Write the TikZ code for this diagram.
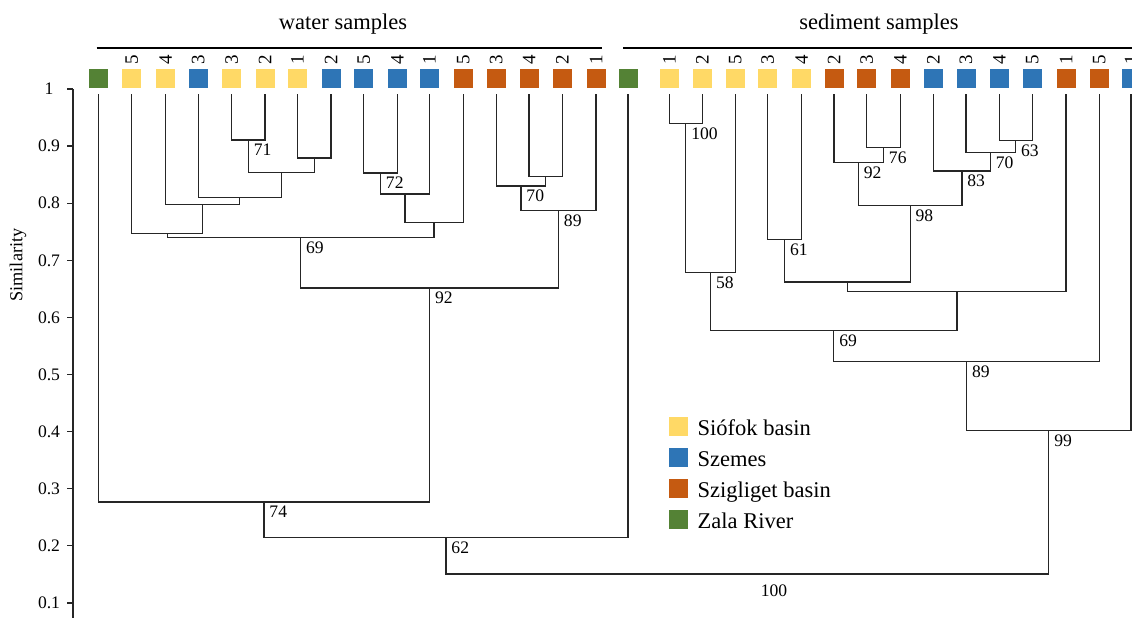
\documentclass[tikz,border=0pt]{standalone}
\usepackage{fontspec}
\setmainfont{Liberation Serif}
\usetikzlibrary{positioning}

\definecolor{syel}{HTML}{FFD966}
\definecolor{sblue}{HTML}{2E75B6}
\definecolor{sorange}{HTML}{C55A11}
\definecolor{sgreen}{HTML}{548235}

\begin{document}
\begin{tikzpicture}[
    x=0.025cm, y=-0.025cm,
    leaf/.style={rectangle, fill=#1, minimum size=4.75mm, inner sep=0pt, outer ysep=1.6mm},
    key/.style={rectangle, fill=#1, minimum size=4.75mm, inner sep=0pt},
    tag/.style={rotate=90, inner sep=0pt, font=\fontsize{13.5}{16}\selectfont},
    num/.style={anchor=north west, inner sep=0pt, xshift=1.3mm, yshift=-1mm, font=\fontsize{12.5}{15}\selectfont},
    tick/.style={inner sep=0pt, font=\fontsize{12.5}{15}\selectfont},
    title/.style={anchor=base, inner sep=0pt, font=\fontsize{16}{19}\selectfont},
    keytext/.style={anchor=base west, inner sep=0pt, font=\fontsize{16}{19}\selectfont},
    link/.style={draw=black!85, line width=0.9pt},
    axis/.style={draw=black!85, line width=0.9pt},
    bracket/.style={draw=black, line width=1.4pt}
]
    \useasboundingbox (0,0) rectangle (1132,618);

    % group headings
    \node[title] (wtitle) at (343,29.3) {water samples};
    \node[title] (stitle) at (879,29.3) {sediment samples};
    \draw[bracket] (96.7,48.3) -- (601.7,48.3);
    \draw[bracket] (623.3,48.3) -- (1140,48.3);

    % axis
    \draw[axis] (73,89) -- (73,618);
    \foreach \v/\t [count=\i] in {89/1, 146.1/0.9, 203.2/0.8, 260.3/0.7, 317.4/0.6,
                                  374.5/0.5, 431.6/0.4, 488.7/0.3, 545.8/0.2, 602.9/0.1} {
        \draw[axis] (67,\v) -- (73,\v);
        \node[tick] (tk\i) at (49,\v) {\t};
    }
    \node[rotate=90, font=\fontsize{13}{15}\selectfont] (ylab) at (18,265) {Similarity};

    % water samples
    \node[leaf=sgreen] (wz) at (98.3,78.5) {};
    \node[leaf=syel] (wy5) at (131.7,78.5) {};  \node[tag] (wy5n) at (wy5 |- 0,60) {5};
    \node[leaf=syel] (wy4) at (165.7,78.5) {};  \node[tag] (wy4n) at (wy4 |- 0,60) {4};
    \node[leaf=sblue] (wb3) at (198.3,78.5) {}; \node[tag] (wb3n) at (wb3 |- 0,60) {3};
    \node[leaf=syel] (wy3) at (231.7,78.5) {};  \node[tag] (wy3n) at (wy3 |- 0,60) {3};
    \node[leaf=syel] (wy2) at (265,78.5) {};    \node[tag] (wy2n) at (wy2 |- 0,60) {2};
    \node[leaf=syel] (wy1) at (297.3,78.5) {};  \node[tag] (wy1n) at (wy1 |- 0,60) {1};
    \node[leaf=sblue] (wb2) at (331,78.5) {};   \node[tag] (wb2n) at (wb2 |- 0,60) {2};
    \node[leaf=sblue] (wb5) at (363.7,78.5) {}; \node[tag] (wb5n) at (wb5 |- 0,60) {5};
    \node[leaf=sblue] (wb4) at (397.3,78.5) {}; \node[tag] (wb4n) at (wb4 |- 0,60) {4};
    \node[leaf=sblue] (wb1) at (429.3,78.5) {}; \node[tag] (wb1n) at (wb1 |- 0,60) {1};
    \node[leaf=sorange] (wo5) at (463.3,78.5) {}; \node[tag] (wo5n) at (wo5 |- 0,60) {5};
    \node[leaf=sorange] (wo3) at (496.3,78.5) {}; \node[tag] (wo3n) at (wo3 |- 0,60) {3};
    \node[leaf=sorange] (wo4) at (529,78.5) {};   \node[tag] (wo4n) at (wo4 |- 0,60) {4};
    \node[leaf=sorange] (wo2) at (562.3,78.5) {}; \node[tag] (wo2n) at (wo2 |- 0,60) {2};
    \node[leaf=sorange] (wo1) at (596,78.5) {};   \node[tag] (wo1n) at (wo1 |- 0,60) {1};
    \node[leaf=sgreen] (sz) at (628,78.5) {};

    % sediment samples
    \node[leaf=syel] (sy1) at (669.3,78.5) {};  \node[tag] (sy1n) at (sy1 |- 0,60) {1};
    \node[leaf=syel] (sy2) at (702.3,78.5) {};  \node[tag] (sy2n) at (sy2 |- 0,60) {2};
    \node[leaf=syel] (sy5) at (735.3,78.5) {};  \node[tag] (sy5n) at (sy5 |- 0,60) {5};
    \node[leaf=syel] (sy3) at (767.7,78.5) {};  \node[tag] (sy3n) at (sy3 |- 0,60) {3};
    \node[leaf=syel] (sy4) at (801.7,78.5) {};  \node[tag] (sy4n) at (sy4 |- 0,60) {4};
    \node[leaf=sorange] (so2) at (834,78.5) {};   \node[tag] (so2n) at (so2 |- 0,60) {2};
    \node[leaf=sorange] (so3) at (866.7,78.5) {}; \node[tag] (so3n) at (so3 |- 0,60) {3};
    \node[leaf=sorange] (so4) at (900.3,78.5) {}; \node[tag] (so4n) at (so4 |- 0,60) {4};
    \node[leaf=sblue] (sb2) at (933.3,78.5) {};  \node[tag] (sb2n) at (sb2 |- 0,60) {2};
    \node[leaf=sblue] (sb3) at (966,78.5) {};    \node[tag] (sb3n) at (sb3 |- 0,60) {3};
    \node[leaf=sblue] (sb4) at (999.3,78.5) {};  \node[tag] (sb4n) at (sb4 |- 0,60) {4};
    \node[leaf=sblue] (sb5) at (1032.3,78.5) {}; \node[tag] (sb5n) at (sb5 |- 0,60) {5};
    \node[leaf=sorange] (so1) at (1066,78.5) {};  \node[tag] (so1n) at (so1 |- 0,60) {1};
    \node[leaf=sorange] (so5) at (1099.3,78.5) {}; \node[tag] (so5n) at (so5 |- 0,60) {5};
    \node[leaf=sblue] (sb1) at (1131,78.5) {};   \node[tag] (sb1n) at (sb1 |- 0,60) {1};

    % merge points, water
    \coordinate (m1) at (248.3,140);
    \coordinate (m2) at (314.2,158);
    \coordinate (m3) at (281.3,172.3);
    \coordinate (m4) at (239.8,197.7);
    \coordinate (m5) at (202.7,204.3);
    \coordinate (m6) at (167.2,233.7);
    \coordinate (m7) at (380.5,173);
    \coordinate (m8) at (404.9,194);
    \coordinate (m9) at (434.1,222.7);
    \coordinate (m10) at (300.6,237.3);
    \coordinate (m11) at (545.7,176.7);
    \coordinate (m12) at (521,186);
    \coordinate (m13) at (558.5,210.7);
    \coordinate (m14) at (429.6,288);
    \coordinate (m15) at (264,502);
    \coordinate (m16) at (446,537.7);

    % merge points, sediment
    \coordinate (n1) at (685.8,123.3);
    \coordinate (n2) at (710.6,272.3);
    \coordinate (n3) at (784.7,239.7);
    \coordinate (n4) at (883.5,147.3);
    \coordinate (n5) at (858.4,162.3);
    \coordinate (n6) at (1015.7,140.3);
    \coordinate (n7) at (990.4,152.3);
    \coordinate (n8) at (961.9,171);
    \coordinate (n9) at (910.2,205.3);
    \coordinate (n10) at (847.5,282);
    \coordinate (n11) at (956.9,291.3);
    \coordinate (n12) at (833.8,330.7);
    \coordinate (n13) at (966.6,361.3);
    \coordinate (n14) at (1048.8,430.3);
    \coordinate (root) at (747.4,574);

    % water tree
    \draw[link] (wy3.south) |- (m1) -| (wy2.south);
    \draw[link] (wy1.south) |- (m2) -| (wb2.south);
    \draw[link] (m1) |- (m3) -| (m2);
    \draw[link] (wb3.south) |- (m4) -| (m3);
    \draw[link] (wy4.south) |- (m5) -| (m4);
    \draw[link] (wy5.south) |- (m6) -| (m5);
    \draw[link] (wb5.south) |- (m7) -| (wb4.south);
    \draw[link] (m7) |- (m8) -| (wb1.south);
    \draw[link] (m8) |- (m9) -| (wo5.south);
    \draw[link] (m6) |- (m10) -| (m9);
    \draw[link] (wo4.south) |- (m11) -| (wo2.south);
    \draw[link] (wo3.south) |- (m12) -| (m11);
    \draw[link] (m12) |- (m13) -| (wo1.south);
    \draw[link] (m10) |- (m14) -| (m13);
    \draw[link] (wz.south) |- (m15) -| (m14);
    \draw[link] (m15) |- (m16) -| (sz.south);

    % sediment tree
    \draw[link] (sy1.south) |- (n1) -| (sy2.south);
    \draw[link] (n1) |- (n2) -| (sy5.south);
    \draw[link] (sy3.south) |- (n3) -| (sy4.south);
    \draw[link] (so3.south) |- (n4) -| (so4.south);
    \draw[link] (so2.south) |- (n5) -| (n4);
    \draw[link] (sb4.south) |- (n6) -| (sb5.south);
    \draw[link] (sb3.south) |- (n7) -| (n6);
    \draw[link] (sb2.south) |- (n8) -| (n7);
    \draw[link] (n5) |- (n9) -| (n8);
    \draw[link] (n3) |- (n10) -| (n9);
    \draw[link] (n10) |- (n11) -| (so1.south);
    \draw[link] (n2) |- (n12) -| (n11);
    \draw[link] (n12) |- (n13) -| (so5.south);
    \draw[link] (n13) |- (n14) -| (sb1.south);
    \draw[link] (m16) |- (root) -| (n14);

    % support values
    \node[num] (m1l) at (m1) {71};
    \node[num] (m7l) at (m7) {72};
    \node[num] (m10l) at (m10) {69};
    \node[num] (m12l) at (m12) {70};
    \node[num] (m13l) at (m13) {89};
    \node[num] (m14l) at (m14) {92};
    \node[num] (m15l) at (m15) {74};
    \node[num] (m16l) at (m16) {62};
    \node[num] (n1l) at (n1) {100};
    \node[num] (n2l) at (n2) {58};
    \node[num] (n3l) at (n3) {61};
    \node[num] (n4l) at (n4) {76};
    \node[num] (n5l) at (n5) {92};
    \node[num] (n6l) at (n6) {63};
    \node[num] (n7l) at (n7) {70};
    \node[num] (n8l) at (n8) {83};
    \node[num] (n9l) at (n9) {98};
    \node[num] (n12l) at (n12) {69};
    \node[num] (n13l) at (n13) {89};
    \node[num] (n14l) at (n14) {99};
    \node[tick] (rootl) at (774,591) {100};

    % legend
    \node[key=syel] (k1) at (678,426.2) {};
    \node[key=sblue, below=2.85mm of k1] (k2) {};
    \node[key=sorange, below=2.85mm of k2] (k3) {};
    \node[key=sgreen, below=2.85mm of k3] (k4) {};
    \node[keytext] (k1t) at ([xshift=2.4mm]k1.south east) {Siófok basin};
    \node[keytext] (k2t) at ([xshift=2.4mm]k2.south east) {Szemes};
    \node[keytext] (k3t) at ([xshift=2.4mm]k3.south east) {Szigliget basin};
    \node[keytext] (k4t) at ([xshift=2.4mm]k4.south east) {Zala River};
\end{tikzpicture}
\end{document}
